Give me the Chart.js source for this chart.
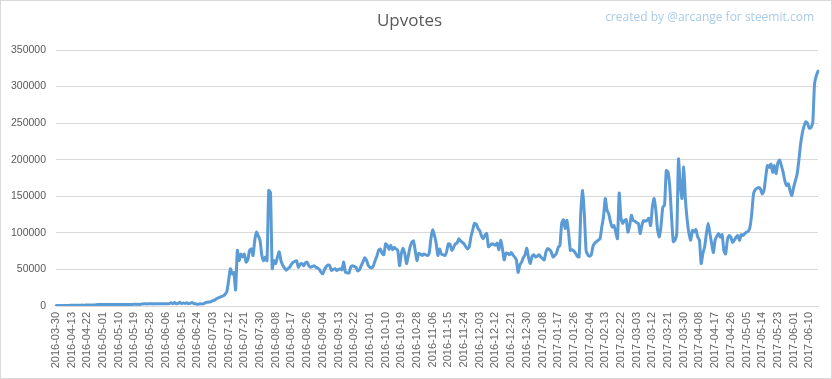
<!DOCTYPE html>
<html><head><meta charset="utf-8">
<script src="https://cdn.jsdelivr.net/npm/chart.js@4.4.1/dist/chart.umd.min.js"></script>
<style>
html,body{margin:0;padding:0;background:#fff;}
#wrap{position:absolute;left:0;top:0;width:832px;height:379px;box-sizing:border-box;border:1px solid #d9d9d9;background:#fff;}
canvas{display:block;}
</style></head><body>
<div id="wrap"><canvas id="c" width="830" height="377"></canvas></div>
<script>
// Category dates: first sample 2016-03-30, then daily from 2016-04-05 to 2017-06-15
const firstDate = '2016-03-30';
const dailyStart = '2016-04-05';
const dailyEnd = '2017-06-15';

const tickLabels = [
 '2016-03-30','2016-04-13','2016-04-22','2016-05-01','2016-05-10','2016-05-19','2016-05-28',
 '2016-06-06','2016-06-15','2016-06-24','2016-07-03','2016-07-12','2016-07-21','2016-07-30',
 '2016-08-08','2016-08-17','2016-08-26','2016-09-04','2016-09-13','2016-09-22','2016-10-01',
 '2016-10-10','2016-10-19','2016-10-28','2016-11-06','2016-11-15','2016-11-24','2016-12-03',
 '2016-12-12','2016-12-21','2016-12-30','2017-01-08','2017-01-17','2017-01-26','2017-02-04',
 '2017-02-13','2017-02-22','2017-03-03','2017-03-12','2017-03-21','2017-03-30','2017-04-08',
 '2017-04-17','2017-04-26','2017-05-05','2017-05-14','2017-05-23','2017-06-01','2017-06-10'
];

const upvotes = [
 500,600,700,600,700,800,700,800,900,900,
 1000,1000,1100,1000,1100,1200,1100,1200,1200,1300,
 1200,1300,1300,1800,1900,1900,2000,1900,2000,2100,
 2000,2000,2100,2000,2100,2200,2100,2000,2100,2200,
 2100,2200,2200,2100,2200,2300,2200,2300,2200,2800,
 2900,3000,2900,3000,3100,3000,2900,3100,3200,3000,
 3100,3200,3100,3000,3200,3300,4500,3200,4800,3000,
 3500,5000,3200,4200,3300,4600,3100,3800,4700,3200,
 3000,2500,2600,3000,2800,3500,5000,5200,5500,6000,
 7500,8000,10000,11000,12000,13000,14000,16000,20000,35000,
 51000,44000,46000,22000,76000,62000,71000,67000,71000,60000,
 63000,76000,78000,69000,90000,101000,96000,90000,70000,62000,
 67000,62000,158000,155000,51000,62000,58000,67000,74000,62000,
 56000,52000,49000,51000,53000,57000,60000,61000,62000,53000,
 57000,58000,55000,59000,60000,55000,53000,54000,55000,53000,
 52000,50000,46000,44000,50000,54000,56000,55000,48600,50000,
 51000,48600,50000,51000,49500,60000,46000,45500,45000,53000,
 55000,54000,53000,48000,49500,55000,60000,66000,63000,56000,
 53000,52000,55000,62000,68000,76000,78000,72000,70000,85000,
 83000,77000,83000,77000,80000,78000,76000,55000,71000,79000,
 72000,58000,68000,80000,87000,89000,76000,62000,72000,71000,
 69000,71000,70000,69000,72000,92000,104000,97000,86000,69000,
 78000,71000,70000,69000,74000,85000,84000,76000,80000,85000,
 86000,92000,89000,87000,85000,81000,78000,81000,95000,104000,
 113000,112000,106000,103000,96000,92000,97000,99000,81000,83000,
 85000,84000,83000,86000,77000,90000,79000,63000,72000,72000,
 70000,73000,70000,67000,63000,46000,56000,60000,66000,70000,
 79000,66000,58000,68000,70000,67000,68000,70000,67000,65000,
 63000,74000,78600,77000,74000,67000,69000,72000,80000,83000,
 113000,118000,106000,117000,99000,76000,77000,75000,72000,68000,
 67000,130000,158000,126000,76000,70000,68000,70000,82000,86000,
 88000,90000,92000,108000,122000,147000,131000,126000,115000,108000,
 110000,101000,92000,154500,120000,113000,117000,118000,101000,110000,
 124000,117000,116000,114000,113000,99000,110000,117000,116000,117000,
 120000,110000,135000,147000,131000,104000,94500,110000,135000,138000,
 185000,183000,163000,122000,88000,90000,99000,201000,165000,147000,
 190000,144500,117000,99000,90000,103600,101000,104500,94500,90000,
 58000,72000,81000,99000,113000,99000,85500,73000,90000,95500,
 99000,94000,97700,76000,71000,89500,96400,94000,87000,90000,
 94000,96400,89500,97700,96400,99000,101000,102000,108000,126000,
 153000,159000,161000,162000,160000,153000,157700,176000,192000,189500,
 194000,182700,192000,181000,196000,199500,192000,183000,171000,164500,
 167000,157700,151000,162000,171000,180000,198600,221000,236000,246000,
 252000,249500,243000,244000,251000,303000,314500,321000
];

function buildCategories() {
  const out = [firstDate];
  const d = new Date(dailyStart + 'T00:00:00Z');
  const end = new Date(dailyEnd + 'T00:00:00Z');
  while (d <= end) {
    out.push(d.toISOString().slice(0, 10));
    d.setUTCDate(d.getUTCDate() + 1);
  }
  return out;
}
const categories = buildCategories();

const watermark = {
  id: 'watermark',
  afterDraw(chart) {
    const c = chart.ctx;
    c.save();
    c.font = '12px "Open Sans", "Liberation Sans", sans-serif';
    c.fillStyle = '#a9cbe9';
    c.textAlign = 'right';
    c.textBaseline = 'middle';
    c.fillText('created by @arcange for steemit.com', 813, 17);
    c.restore();
  }
};

new Chart(document.getElementById('c'), {
  type: 'line',
  data: {
    labels: categories,
    datasets: [{
      label: 'Upvotes',
      data: upvotes,
      borderColor: '#5b9bd5',
      borderWidth: 3,
      pointRadius: 0,
      tension: 0.2,
      fill: false,
      borderJoinStyle: 'round',
      borderCapStyle: 'round'
    }]
  },
  options: {
    responsive: false,
    animation: false,
    layout: { padding: { left: 0, right: 13, top: 0, bottom: 0 } },
    plugins: {
      legend: { display: false },
      tooltip: { enabled: false },
      title: {
        display: true,
        text: 'Upvotes',
        color: '#595959',
        font: { family: '"Open Sans", "Liberation Sans", sans-serif', size: 17, weight: 'normal' },
        padding: { top: 10, bottom: 18.6 }
      }
    },
    scales: {
      x: {
        type: 'category',
        offset: false,
        grid: { display: false, drawTicks: false },
        border: { display: true, color: '#d9d9d9' },
        ticks: {
          autoSkip: false,
          minRotation: 90,
          maxRotation: 90,
          padding: 6,
          color: '#666666',
          font: { family: '"Liberation Sans", sans-serif', size: 11 },
          callback: function (v, i) {
            const l = categories[i];
            return tickLabels.includes(l) ? l : null;
          }
        },
        afterFit: function (s) { s.height = 72; }
      },
      y: {
        min: 0,
        max: 350000,
        grid: { color: '#d9d9d9', drawTicks: false },
        border: { display: false },
        ticks: {
          stepSize: 50000,
          padding: 10,
          color: '#595959',
          font: { family: '"Liberation Sans", sans-serif', size: 10.5 },
          callback: function (v) { return String(v); }
        },
        afterFit: function (s) { s.width = 55; }
      }
    }
  },
  plugins: [watermark]
});
</script>
</body></html>
